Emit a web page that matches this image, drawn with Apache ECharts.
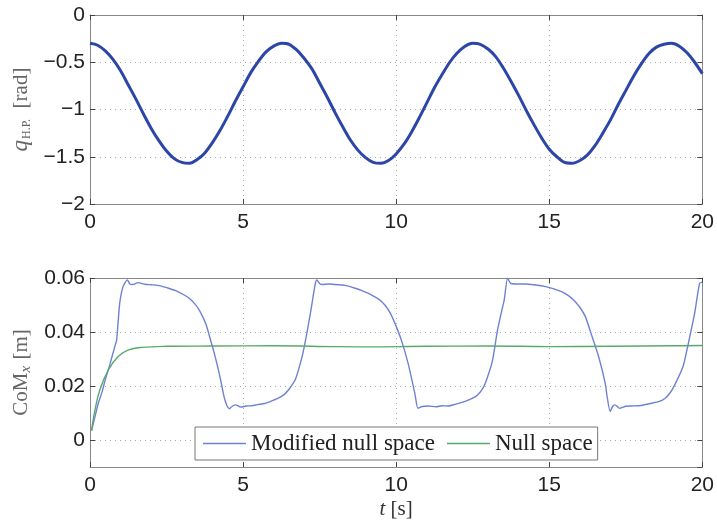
<!DOCTYPE html>
<html>
<head>
<meta charset="utf-8">
<script src="https://cdn.jsdelivr.net/npm/echarts@6/dist/echarts.min.js"></script>
<style>
    html, body { margin: 0; padding: 0; background: #fff; }
    #main { width: 717px; height: 522px; }
</style>
</head>
<body>
<div id="main"></div>
<script>
// top panel: hip pitch angle [rad], sampled every 0.25 s
var hipStart = 0;
var hipStep = 0.25;
var hipValues = [
    -0.30, -0.32, -0.38, -0.47, -0.59, -0.74, -0.89, -1.05, -1.20, -1.33, -1.44, -1.52, -1.56, -1.57, -1.53, -1.46,
    -1.35, -1.22, -1.07, -0.91, -0.76, -0.61, -0.49, -0.39, -0.33, -0.30, -0.31, -0.37, -0.46, -0.57, -0.72, -0.87,
    -1.03, -1.18, -1.32, -1.43, -1.51, -1.56, -1.57, -1.54, -1.47, -1.37, -1.24, -1.09, -0.93, -0.77, -0.63, -0.50,
    -0.40, -0.33, -0.30, -0.31, -0.36, -0.44, -0.56, -0.70, -0.85, -1.01, -1.16, -1.30, -1.42, -1.50, -1.56, -1.57,
    -1.54, -1.48, -1.38, -1.25, -1.11, -0.95, -0.80, -0.65, -0.52, -0.41, -0.34, -0.31, -0.30, -0.33, -0.40, -0.50, -0.62
];

// bottom panel: CoM x [m]
var modifiedTime = [0.05, 0.15, 0.27, 0.4, 0.49, 0.65, 0.81, 0.87, 0.97, 1.08, 1.22, 1.3, 1.4, 1.57, 1.8, 2.0, 2.3, 2.54, 2.8, 3.08,
    3.25, 3.41, 3.55, 3.68, 3.8, 3.9, 4.06, 4.22, 4.38, 4.47, 4.55, 4.65, 4.76, 4.92, 5.1, 5.3, 5.47, 5.7, 5.9, 6.1,
    6.33, 6.5, 6.71, 6.93, 7.04, 7.2, 7.36, 7.41, 7.5, 7.58, 7.8, 8.12, 8.4, 8.66, 8.9, 9.2, 9.45, 9.63, 9.8, 9.96,
    10.17, 10.39, 10.61, 10.71, 10.85, 11.05, 11.3, 11.5, 11.69, 11.95, 12.23, 12.45, 12.66, 12.85, 12.99, 13.15, 13.31, 13.45, 13.53, 13.64,
    13.74, 13.9, 14.23, 14.55, 14.88, 15.15, 15.42, 15.65, 15.85, 16.02, 16.18, 16.4, 16.61, 16.83, 16.88, 16.99, 17.07, 17.15, 17.3, 17.5,
    17.69, 18.0, 18.34, 18.6, 18.78, 18.95, 19.1, 19.37, 19.59, 19.75, 19.91, 20.0];
var modifiedValues = [0.0035, 0.008, 0.0136, 0.018, 0.022, 0.028, 0.0346, 0.037, 0.0506, 0.0568, 0.0593, 0.0578, 0.0576, 0.0583, 0.0577, 0.0575, 0.0571, 0.0563, 0.0553, 0.0537,
    0.0524, 0.0506, 0.0485, 0.0457, 0.0425, 0.0385, 0.0321, 0.0247, 0.016, 0.0128, 0.0116, 0.0125, 0.0130, 0.0122, 0.0126, 0.0127, 0.0131, 0.0135, 0.0143, 0.0152,
    0.0167, 0.0188, 0.0225, 0.031, 0.037, 0.047, 0.058, 0.0593, 0.058, 0.0576, 0.0578, 0.0575, 0.0571, 0.0562, 0.0552, 0.0537, 0.0520, 0.0500, 0.0472, 0.0432,
    0.037, 0.0284, 0.0173, 0.0117, 0.0124, 0.0126, 0.0123, 0.0127, 0.0126, 0.0133, 0.0142, 0.0152, 0.0167, 0.0195, 0.0235, 0.0296, 0.0407, 0.048, 0.0519, 0.0599,
    0.0580, 0.0578, 0.0578, 0.0574, 0.0568, 0.0560, 0.0549, 0.0533, 0.0512, 0.0488, 0.0457, 0.0383, 0.031, 0.021, 0.0168, 0.0105, 0.0125, 0.0130, 0.0117, 0.0125,
    0.0126, 0.0128, 0.0136, 0.0143, 0.0154, 0.0175, 0.0204, 0.0272, 0.0383, 0.047, 0.058, 0.0585];

var nullTime = [0.05, 0.16, 0.32, 0.6, 0.92, 1.24, 1.68, 2.5, 4, 6, 8, 9, 11, 13, 15, 17, 19, 20];
var nullValues = [0.0035, 0.011, 0.0185, 0.026, 0.0309, 0.0333, 0.0343, 0.0347, 0.0348, 0.0349, 0.0346, 0.0345, 0.0347, 0.0348, 0.0346, 0.0347, 0.0349, 0.035];

function pairs(xs, ys) {
    var out = [];
    for (var i = 0; i < xs.length; i++) {
        out.push([xs[i], ys[i]]);
    }
    return out;
}

function sampled(start, step, ys) {
    var out = [];
    for (var i = 0; i < ys.length; i++) {
        out.push([start + i * step, ys[i]]);
    }
    return out;
}

function minus(v) {
    return String(v).replace('-', '\u2212');
}

var labelFont = {fontFamily: 'Liberation Sans', fontSize: 21, color: '#222'};
var gridLine = {show: true, lineStyle: {color: '#aaa', type: [1, 4], width: 1}};
var frame = {show: true, onZero: false, lineStyle: {color: '#888', width: 1}};
var tickIn = {show: true, inside: true, length: 5, lineStyle: {color: '#444'}};

function xAxisFor(gridIndex, withName) {
    var ax = {
        type: 'value', gridIndex: gridIndex, min: 0, max: 20, interval: 5,
        axisLine: frame, axisTick: tickIn, splitLine: gridLine,
        axisLabel: Object.assign({margin: 8}, labelFont)
    };
    if (withName) {
        ax.name = '{it|t} [s]';
        ax.nameLocation = 'middle';
        ax.nameGap = 32;
        ax.nameTextStyle = {
            fontFamily: 'Liberation Serif', fontSize: 21, color: '#333',
            rich: {it: {fontFamily: 'Liberation Serif', fontStyle: 'italic', fontSize: 21, color: '#333'}}
        };
    }
    return ax;
}

function mirrorX(gridIndex) {
    return {
        type: 'value', gridIndex: gridIndex, position: 'top', min: 0, max: 20, interval: 5,
        axisLine: frame, axisTick: tickIn, axisLabel: {show: false}, splitLine: {show: false}
    };
}

var chart = echarts.init(document.getElementById('main'));

var option = {
    backgroundColor: '#fff',
    animation: false,
    grid: [
        {left: 90, right: 12, top: 15, height: 189},
        {left: 90, right: 12, top: 278, height: 189}
    ],
    legend: {
        data: [
            {name: 'Modified null space', icon: 'rect'},
            {name: 'Null space', icon: 'rect'}
        ],
        left: 195, top: 427,
        backgroundColor: '#fff', borderColor: '#777', borderWidth: 1,
        padding: [5, 5, 5, 8],
        itemGap: 12, itemWidth: 43, itemHeight: 1.5,
        textStyle: {fontFamily: 'Liberation Serif', fontSize: 23, color: '#222'}
    },
    xAxis: [
        xAxisFor(0, false),
        xAxisFor(1, true),
        mirrorX(0),
        mirrorX(1)
    ],
    yAxis: [
        {
            type: 'value', gridIndex: 0, min: -2, max: 0, interval: 0.5,
            axisLine: frame, axisTick: tickIn, splitLine: gridLine,
            axisLabel: Object.assign({margin: 5, formatter: minus}, labelFont),
            name: '{q|q}{sub|H.P.}  [rad]',
            nameLocation: 'middle', nameGap: 54,
            nameTextStyle: {
                fontFamily: 'Liberation Serif', fontSize: 21, color: '#666',
                rich: {
                    q: {fontFamily: 'Liberation Serif', fontStyle: 'italic', fontSize: 23, color: '#666'},
                    sub: {fontFamily: 'Liberation Serif', fontSize: 12, color: '#666', verticalAlign: 'bottom', padding: [10, 0, 0, 1]}
                }
            }
        },
        {
            type: 'value', gridIndex: 1, min: -0.01, max: 0.06, splitNumber: 3,
            axisLine: frame, axisTick: tickIn, splitLine: gridLine,
            axisLabel: Object.assign({margin: 5, showMinLabel: false}, labelFont),
            name: 'CoM{sub|x} [m]',
            nameLocation: 'middle', nameGap: 54,
            nameTextStyle: {
                fontFamily: 'Liberation Serif', fontSize: 21, color: '#666',
                rich: {
                    sub: {fontFamily: 'Liberation Serif', fontStyle: 'italic', fontSize: 15, color: '#666', verticalAlign: 'bottom', padding: [8, 1, 0, 0]}
                }
            }
        },
        {
            type: 'value', gridIndex: 0, position: 'right', min: -2, max: 0, interval: 0.5,
            axisLine: frame, axisTick: tickIn, axisLabel: {show: false}, splitLine: {show: false}
        },
        {
            type: 'value', gridIndex: 1, position: 'right', min: -0.01, max: 0.06, splitNumber: 3,
            axisLine: frame, axisTick: tickIn, axisLabel: {show: false}, splitLine: {show: false}
        }
    ],
    series: [
        {
            name: 'hip', type: 'line', xAxisIndex: 0, yAxisIndex: 0,
            data: sampled(hipStart, hipStep, hipValues),
            smooth: 0.3, symbol: 'none',
            lineStyle: {color: '#2c46a8', width: 3}
        },
        {
            name: 'Modified null space', type: 'line', xAxisIndex: 1, yAxisIndex: 1,
            data: pairs(modifiedTime, modifiedValues),
            smooth: 0.2, symbol: 'none',
            color: '#6f82d2',
            lineStyle: {color: '#6f82d2', width: 1.4}
        },
        {
            name: 'Null space', type: 'line', xAxisIndex: 1, yAxisIndex: 1,
            data: pairs(nullTime, nullValues),
            smooth: 0.4, symbol: 'none',
            color: '#5aa86c',
            lineStyle: {color: '#5aa86c', width: 1.4}
        }
    ]
};

chart.setOption(option);
</script>
</body>
</html>
